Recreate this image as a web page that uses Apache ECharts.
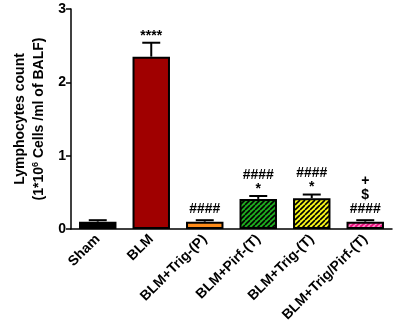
<!DOCTYPE html>
<html>
<head>
<meta charset="utf-8">
<script src="https://cdn.jsdelivr.net/npm/echarts@6/dist/echarts.min.js"></script>
<style>
html,body{margin:0;padding:0;background:#fff;}
#chart{width:396px;height:327px;}
</style>
</head>
<body>
<div id="chart"></div>
<script>
// Lymphocyte counts in BALF (x10^6 cells/ml), mean and SEM per group
const groups = ['Sham', 'BLM', 'BLM+Trig-(P)', 'BLM+Pirf-(T)', 'BLM+Trig-(T)', 'BLM+Trig/Pirf-(T)'];
const means = [0.10, 2.35, 0.10, 0.41, 0.42, 0.10];
const sems = [0.02, 0.19, 0.02, 0.04, 0.05, 0.02];
// significance marks, bottom line first
const marks = [[], ['****'], ['####'], ['*', '####'], ['*', '####'], ['####', '$', '+']];
const yTicks = [0, 1, 2, 3];

const FONT = 'Arial, "Liberation Sans", Helvetica, sans-serif';

function stripes(bg, fg, size, width) {
  const c = document.createElement('canvas');
  c.width = size; c.height = size;
  const g = c.getContext('2d');
  g.fillStyle = bg; g.fillRect(0, 0, size, size);
  g.strokeStyle = fg; g.lineWidth = width;
  g.beginPath();
  for (let k = -1; k <= 1; k++) {
    g.moveTo(k * size, size); g.lineTo(k * size + size, 0);
  }
  g.stroke();
  return { image: c, repeat: 'repeat' };
}
function dots(bg, fg) {
  const c = document.createElement('canvas');
  c.width = 4; c.height = 8;
  const g = c.getContext('2d');
  g.fillStyle = bg; g.fillRect(0, 0, 4, 8);
  g.fillStyle = fg; g.fillRect(1, 3, 2, 2);
  return { image: c, repeat: 'repeat' };
}

const fills = [
  '#000000',
  '#a00000',
  dots('#ff8c1a', '#b35900'),
  stripes('#1faa1f', '#000000', 5, 1.6),
  stripes('#f5f51a', '#000000', 5, 1.6),
  stripes('#e8127e', '#ff8fc6', 5, 1.6)
];

const chart = echarts.init(document.getElementById('chart'), null, { renderer: 'canvas' });

chart.setOption({
  animation: false,
  grid: { left: 71, right: 4, top: 9, bottom: 98 },
  xAxis: {
    type: 'category',
    data: groups,
    axisLine: { lineStyle: { color: '#000', width: 1.5 } },
    axisTick: { alignWithLabel: true, length: 5, lineStyle: { color: '#000', width: 1.5 } },
    axisLabel: {
      rotate: 45, margin: 8, color: '#000',
      fontFamily: FONT, fontWeight: 'bold', fontSize: 14
    }
  },
  yAxis: {
    type: 'value',
    min: yTicks[0], max: yTicks[yTicks.length - 1], interval: 1,
    splitLine: { show: false },
    axisLine: { show: true, lineStyle: { color: '#000', width: 1.5 } },
    axisTick: { show: true, length: 5, lineStyle: { color: '#000', width: 1.5 } },
    axisLabel: { color: '#000', fontFamily: FONT, fontWeight: 'bold', fontSize: 14, margin: 5 },
    name: '{a|Lymphocytes count}\n{a|(1*10}{s|6}{a| Cells /ml of BALF)}',
    nameLocation: 'middle',
    nameGap: 22,
    nameRotate: 90,
    nameTextStyle: {
      rich: {
        a: { fontFamily: FONT, fontWeight: 'bold', fontSize: 14, color: '#000', lineHeight: 19 },
        s: { fontFamily: FONT, fontWeight: 'bold', fontSize: 9, color: '#000', lineHeight: 19, padding: [0, 0, 7, 0] }
      }
    }
  },
  series: [
    {
      type: 'bar',
      barWidth: '70%',
      data: means.map((v, i) => ({
        value: v,
        itemStyle: { color: fills[i], borderColor: '#000', borderWidth: 2 }
      })),
      z: 2
    },
    {
      type: 'custom',
      z: 3,
      data: means.map((v, i) => [i, v, sems[i]]),
      renderItem: function (params, api) {
        const i = api.value(0);
        const top = api.coord([i, api.value(1)]);
        const hi = api.coord([i, api.value(1) + api.value(2)]);
        const bw = api.size([1, 0])[0] * 0.7;
        const half = bw * 0.24;
        const children = [
          { type: 'line', shape: { x1: top[0], y1: top[1], x2: hi[0], y2: hi[1] },
            style: { stroke: '#000', lineWidth: 2 } },
          { type: 'line', shape: { x1: hi[0] - half, y1: hi[1], x2: hi[0] + half, y2: hi[1] },
            style: { stroke: '#000', lineWidth: 2 } }
        ];
        let y = hi[1] - 4;
        marks[i].forEach((t) => {
          // asterisks sit high in the glyph box, so pull them down a little
          const drop = t.charAt(0) === '*' ? 4 : 0;
          children.push({
            type: 'text',
            style: {
              text: t, x: hi[0], y: y + drop,
              textAlign: 'center', textVerticalAlign: 'bottom',
              font: 'bold 14px ' + FONT, fill: '#000'
            }
          });
          y -= (drop ? 10 : 14);
        });
        return { type: 'group', children: children };
      }
    }
  ]
});
</script>
</body>
</html>
